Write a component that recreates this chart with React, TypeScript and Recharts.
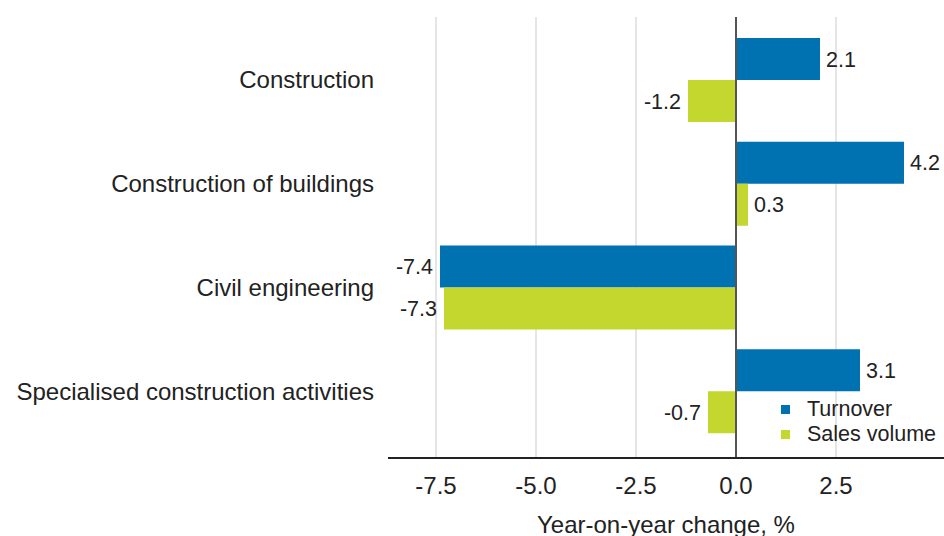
import React from 'react';
import { BarChart, Bar, XAxis, YAxis, CartesianGrid, ReferenceLine, Legend, LabelList } from 'recharts';

const categories = [
  'Construction',
  'Construction of buildings',
  'Civil engineering',
  'Specialised construction activities',
];
const turnover = [2.1, 4.2, -7.4, 3.1];
const salesVolume = [-1.2, 0.3, -7.3, -0.7];
const xTicks = [-7.5, -5, -2.5, 0, 2.5];

const SERIES = [
  { key: 'turnover', name: 'Turnover', color: '#0071b1' },
  { key: 'salesVolume', name: 'Sales volume', color: '#c3d72f' },
];

const FONT = '"Liberation Sans", Arial, sans-serif';
const TEXT = '#222';

const data = categories.map((category, i) => ({
  category,
  turnover: turnover[i],
  salesVolume: salesVolume[i],
}));

const ValueLabel = (props: any) => {
  const { x, y, width, height, value } = props;
  const left = Math.min(x, x + width);
  const right = Math.max(x, x + width);
  const neg = value < 0;
  return (
    <text
      x={neg ? left - 7 : right + 6}
      y={y + height / 2}
      dy="0.355em"
      textAnchor={neg ? 'end' : 'start'}
      fill={TEXT}
      fontSize={21.5}
      fontFamily={FONT}
    >
      {value.toFixed(1)}
    </text>
  );
};

const renderLegend = () => (
  <div style={{ fontFamily: FONT, fontSize: 21.5, color: TEXT }}>
    {SERIES.map((s) => (
      <div key={s.key} style={{ display: 'flex', alignItems: 'center', height: 25 }}>
        <span style={{ width: 9, height: 9, background: s.color, marginRight: 17, display: 'inline-block' }} />
        <span>{s.name}</span>
      </div>
    ))}
  </div>
);

export default function App() {
  return (
    <div style={{ position: 'absolute', left: 0, top: 0, width: 944, height: 536, background: '#fff' }}>
      <BarChart
        width={944}
        height={536}
        data={data}
        layout="vertical"
        margin={{ top: 17, right: 0, left: 0, bottom: 0 }}
        barGap={0}
      >
        <CartesianGrid
          horizontal={false}
          verticalValues={xTicks.filter((t) => t !== 0)}
          stroke="#dcdcdc"
          strokeWidth={1.5}
        />
        <XAxis
          type="number"
          domain={[-8.7, 5.2]}
          ticks={xTicks}
          tickFormatter={(v: number) => v.toFixed(1)}
          allowDataOverflow
          height={78}
          tickLine={false}
          tickSize={0}
          tickMargin={19}
          axisLine={{ stroke: '#222', strokeWidth: 2 }}
          tick={{ fill: TEXT, fontSize: 24, fontFamily: FONT }}
          label={{
            value: 'Year-on-year change, %',
            position: 'insideBottom',
            offset: 3,
            fill: TEXT,
            fontSize: 24,
            fontFamily: FONT,
          }}
        />
        <YAxis
          type="category"
          dataKey="category"
          width={388}
          axisLine={false}
          tickLine={false}
          tickSize={0}
          tickMargin={14}
          padding={{ top: 11, bottom: 15 }}
          tick={{ fill: TEXT, fontSize: 24, fontFamily: FONT }}
        />
        <ReferenceLine x={0} stroke="#555" strokeWidth={2} />
        <Legend
          content={renderLegend}
          layout="horizontal"
          align="center"
          verticalAlign="middle"
          wrapperStyle={{ position: 'absolute', left: 781, top: 397, width: 'auto', height: 'auto' }}
        />
        {SERIES.map((s) => (
          <Bar key={s.key} dataKey={s.key} name={s.name} fill={s.color} barSize={42} isAnimationActive={false}>
            <LabelList dataKey={s.key} content={ValueLabel} />
          </Bar>
        ))}
      </BarChart>
    </div>
  );
}
